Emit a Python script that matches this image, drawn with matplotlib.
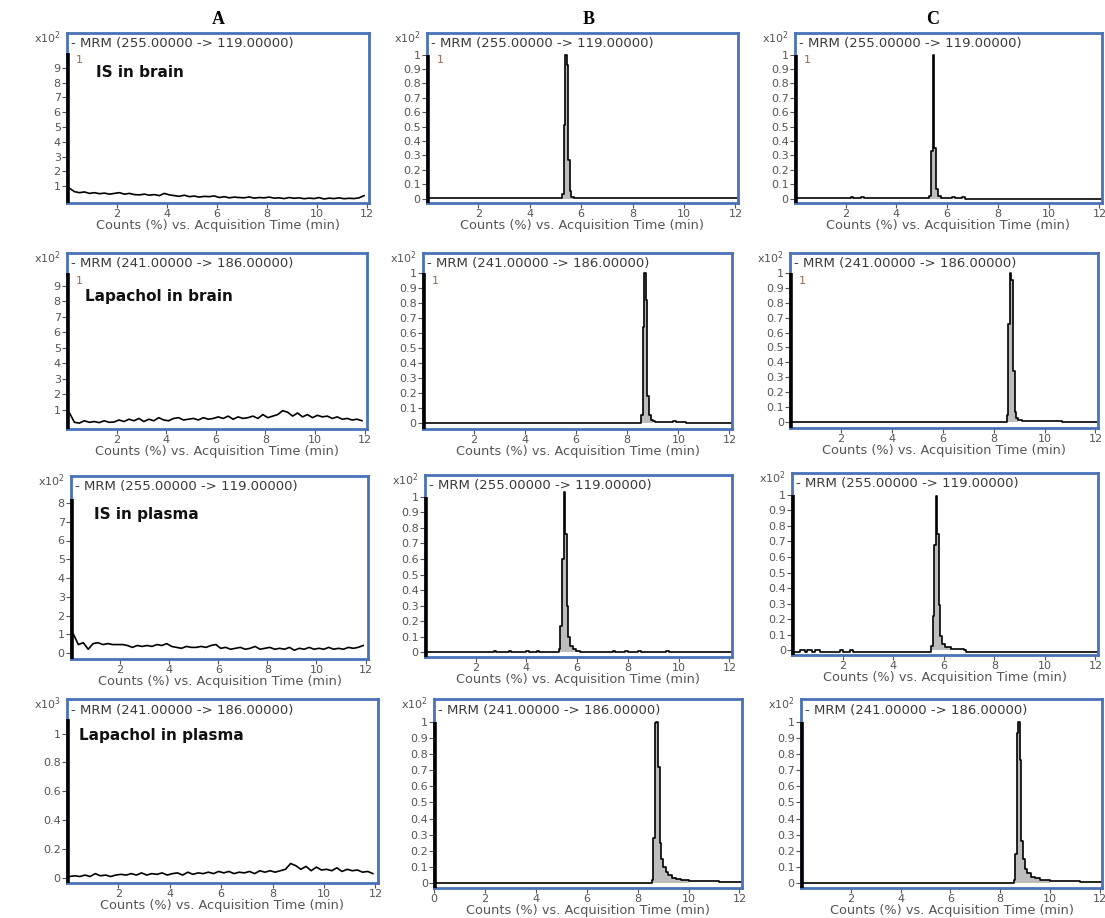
import numpy as np
import matplotlib.pyplot as plt
from matplotlib.ticker import FuncFormatter

# ---- data ----
# acquisition time grid of the blank traces (column A), min
t_blank = np.arange(0.1, 12.0, 0.2)

# column A, blank matrix (noise only), units of the x10^n factor
is_brain_A = [0.85, 0.62, 0.55, 0.60, 0.50, 0.55, 0.48, 0.52, 0.45, 0.50,
              0.55, 0.45, 0.50, 0.42, 0.40, 0.45, 0.38, 0.42, 0.35, 0.50,
              0.40, 0.35, 0.30, 0.38, 0.28, 0.32, 0.25, 0.30, 0.28, 0.33,
              0.22, 0.28, 0.20, 0.25, 0.22, 0.20, 0.26, 0.18, 0.22, 0.20,
              0.25, 0.18, 0.20, 0.15, 0.22, 0.17, 0.20, 0.14, 0.18, 0.15,
              0.22, 0.12, 0.18, 0.15, 0.20, 0.14, 0.17, 0.15, 0.20, 0.35]
lap_brain_A = [0.80, 0.20, 0.15, 0.30, 0.20, 0.25, 0.18, 0.30, 0.20, 0.22,
               0.35, 0.25, 0.40, 0.30, 0.45, 0.25, 0.40, 0.30, 0.50, 0.35,
               0.30, 0.45, 0.50, 0.35, 0.40, 0.45, 0.35, 0.50, 0.40, 0.45,
               0.55, 0.45, 0.60, 0.40, 0.55, 0.45, 0.50, 0.60, 0.45, 0.70,
               0.50, 0.60, 0.70, 0.95, 0.85, 0.60, 0.80, 0.55, 0.70, 0.50,
               0.65, 0.55, 0.60, 0.45, 0.55, 0.40, 0.45, 0.35, 0.40, 0.30]
is_plasma_A = [1.00, 0.45, 0.55, 0.20, 0.50, 0.55, 0.45, 0.50, 0.45, 0.45,
               0.45, 0.40, 0.30, 0.40, 0.35, 0.40, 0.35, 0.45, 0.40, 0.50,
               0.35, 0.30, 0.25, 0.35, 0.30, 0.30, 0.35, 0.30, 0.40, 0.45,
               0.25, 0.30, 0.20, 0.25, 0.30, 0.20, 0.25, 0.35, 0.20, 0.25,
               0.30, 0.20, 0.25, 0.20, 0.30, 0.15, 0.25, 0.20, 0.30, 0.20,
               0.25, 0.20, 0.30, 0.20, 0.25, 0.20, 0.30, 0.25, 0.30, 0.40]
lap_plasma_A = [0.010, 0.015, 0.010, 0.020, 0.010, 0.030, 0.015, 0.020, 0.010, 0.020,
                0.025, 0.020, 0.030, 0.020, 0.035, 0.020, 0.030, 0.025, 0.035, 0.020,
                0.030, 0.035, 0.020, 0.040, 0.025, 0.035, 0.030, 0.040, 0.030, 0.045,
                0.035, 0.045, 0.030, 0.040, 0.035, 0.045, 0.030, 0.050, 0.040, 0.050,
                0.040, 0.050, 0.060, 0.100, 0.085, 0.060, 0.080, 0.050, 0.075, 0.055,
                0.060, 0.050, 0.070, 0.045, 0.060, 0.050, 0.055, 0.040, 0.045, 0.030]

# columns B and C, spiked samples (x10^2, normalised)
is_brain_B_t = [0.0, 3.8, 3.9, 4.2, 4.3, 4.5, 4.6, 5.25, 5.32, 5.38, 5.44, 5.50, 5.56, 5.62,
                5.70, 6.7, 6.8, 6.9, 7.0, 7.1, 7.3, 8.8, 8.9, 10.6, 10.7, 11.0, 11.1, 11.7, 12.1]
is_brain_B_y = [0.003, 0.008, 0.003, 0.008, 0.003, 0.007, 0.003, 0.03, 0.51, 1.0, 0.93, 0.27, 0.05, 0.015,
                0.004, 0.008, 0.003, 0.008, 0.003, 0.007, 0.003, 0.007, 0.003, 0.007, 0.003, 0.007, 0.003, 0.007, 0.003]
is_brain_C_t = [0.0, 1.5, 1.6, 2.2, 2.3, 2.6, 2.7, 3.0, 3.1, 4.1, 4.2, 5.30, 5.36, 5.42,
                5.48, 5.55, 5.62, 5.75, 6.2, 6.3, 6.6, 6.7, 12.1]
is_brain_C_y = [0.006, 0.003, 0.006, 0.009, 0.004, 0.009, 0.004, 0.008, 0.004, 0.006, 0.003, 0.02, 0.33, 1.0,
                0.35, 0.07, 0.02, 0.008, 0.012, 0.004, 0.009, 0.0, 0.0]
lap_brain_B_t = [0.0, 8.55, 8.61, 8.67, 8.73, 8.79, 8.85, 8.92, 9.0, 9.1, 9.8, 9.9, 10.1, 10.3, 12.1]
lap_brain_B_y = [0.0, 0.05, 0.64, 1.0, 0.82, 0.18, 0.05, 0.02, 0.01, 0.006, 0.01, 0.004, 0.008, 0.0, 0.0]
lap_brain_C_t = [0.0, 8.52, 8.58, 8.64, 8.70, 8.76, 8.82, 8.88, 8.95, 9.1, 9.5, 10.0, 10.7, 12.1]
lap_brain_C_y = [0.0, 0.05, 0.66, 1.0, 0.95, 0.34, 0.07, 0.03, 0.015, 0.01, 0.007, 0.006, 0.0, 0.0]
is_plasma_B_t = [0.0, 2.7, 2.8, 3.3, 3.4, 4.0, 4.1, 4.4, 4.5, 5.28, 5.34, 5.40, 5.46, 5.52, 5.58,
                 5.64, 5.72, 5.82, 5.95, 6.1, 7.4, 7.5, 7.9, 8.0, 8.4, 8.5, 9.5, 9.6, 12.1]
is_plasma_B_y = [0.003, 0.008, 0.003, 0.009, 0.003, 0.008, 0.003, 0.008, 0.003, 0.02, 0.17, 0.60, 1.03, 0.76, 0.30,
                 0.10, 0.04, 0.02, 0.01, 0.003, 0.009, 0.003, 0.009, 0.003, 0.008, 0.003, 0.007, 0.003, 0.003]
is_plasma_C_t = [0.0, 0.3, 0.5, 0.6, 0.8, 0.9, 1.1, 1.9, 2.0, 2.3, 2.4, 5.50, 5.56, 5.62, 5.68,
                 5.74, 5.80, 5.86, 5.94, 6.05, 6.3, 6.8, 6.9, 12.1]
is_plasma_C_y = [-0.008, 0.0, -0.008, 0.0, -0.008, 0.0, -0.008, 0.0, -0.008, 0.0, -0.008, 0.03, 0.22, 0.68, 0.99,
                 0.75, 0.29, 0.09, 0.04, 0.02, 0.01, 0.0, -0.008, -0.008]
lap_plasma_B_t = [0.0, 8.55, 8.62, 8.68, 8.74, 8.80, 8.86, 8.92, 9.0, 9.1, 9.2, 9.35, 9.5, 9.7,
                  10.0, 10.5, 11.2, 11.4, 12.1]
lap_plasma_B_y = [0.0, 0.02, 0.28, 0.99, 1.0, 0.72, 0.25, 0.15, 0.10, 0.07, 0.05, 0.035, 0.025, 0.018,
                  0.013, 0.012, 0.010, 0.005, 0.005]
lap_plasma_C_t = [0.0, 8.55, 8.62, 8.68, 8.74, 8.80, 8.86, 8.92, 9.0, 9.1, 9.25, 9.4, 9.6, 10.0,
                  11.0, 11.2, 12.1]
lap_plasma_C_y = [0.0, 0.02, 0.18, 0.93, 1.0, 0.76, 0.26, 0.15, 0.09, 0.06, 0.04, 0.03, 0.02, 0.015,
                  0.012, 0.008, 0.008]

mrm_is = '- MRM (255.00000 -> 119.00000)'
mrm_lap = '- MRM (241.00000 -> 186.00000)'
col_titles = ['A', 'B', 'C']
peak_ticks = [0, 0.1, 0.2, 0.3, 0.4, 0.5, 0.6, 0.7, 0.8, 0.9, 1]

W, H = 1105, 918
BLUE = '#4a72b8'
GREY = '#555555'

fig = plt.figure(figsize=(W / 100, H / 100), dpi=100)

# box = (left, top, right, bottom) in pixels
panels = [
    # row 1
    dict(box=(67, 33, 369, 203), title=mrm_is, t=t_blank, y=is_brain_A, kind='noise',
         ylim=(-0.15, 11.37), yticks=range(1, 10), top=10, exp=2, label='IS in brain',
         lab_xy=(0.095, 0.765), one=True),
    dict(box=(427, 33, 738, 203), title=mrm_is, t=is_brain_B_t, y=is_brain_B_y, kind='peak',
         fill=(5.25, 5.70), ylim=(-0.03, 1.15), yticks=peak_ticks, top=1.0, exp=2, one=True),
    dict(box=(795, 33, 1102, 203), title=mrm_is, t=is_brain_C_t, y=is_brain_C_y, kind='peak',
         fill=(5.30, 5.75), ylim=(-0.03, 1.15), yticks=peak_ticks, top=1.0, exp=2, one=True),
    # row 2
    dict(box=(67, 253, 367, 429), title=mrm_lap, t=t_blank, y=lap_brain_A, kind='noise',
         ylim=(-0.23, 11.1), yticks=range(1, 10), top=9.8, exp=2, label='Lapachol in brain',
         lab_xy=(0.06, 0.75), one=True),
    dict(box=(423, 253, 732, 429), title=mrm_lap, t=lap_brain_B_t, y=lap_brain_B_y, kind='peak',
         fill=(8.55, 9.0), ylim=(-0.04, 1.133), yticks=peak_ticks, top=1.0, exp=2, one=True),
    dict(box=(790, 253, 1098, 428), title=mrm_lap, t=lap_brain_C_t, y=lap_brain_C_y, kind='peak',
         fill=(8.52, 9.0), ylim=(-0.04, 1.133), yticks=peak_ticks, top=1.0, exp=2, one=True),
    # row 3
    dict(box=(71, 476, 368, 659), title=mrm_is, t=t_blank, y=is_plasma_A, kind='noise',
         ylim=(-0.32, 9.44), yticks=range(0, 9), top=8.2, exp=2, label='IS in plasma',
         lab_xy=(0.078, 0.79), one=False),
    dict(box=(425, 475, 732, 657), title=mrm_is, t=is_plasma_B_t, y=is_plasma_B_y, kind='peak',
         fill=(5.28, 6.1), ylim=(-0.03, 1.14), yticks=peak_ticks, top=1.0, exp=2, one=False),
    dict(box=(792, 473, 1098, 655), title=mrm_is, t=is_plasma_C_t, y=is_plasma_C_y, kind='peak',
         fill=(5.50, 6.3), ylim=(-0.03, 1.14), yticks=peak_ticks, top=1.0, exp=2, one=False),
    # row 4
    dict(box=(67, 699, 378, 883), title=mrm_lap, t=t_blank, y=lap_plasma_A, kind='noise',
         ylim=(-0.035, 1.24), yticks=[0, 0.2, 0.4, 0.6, 0.8, 1], top=1.1, exp=3,
         label='Lapachol in plasma', lab_xy=(0.04, 0.80), one=False),
    dict(box=(434, 699, 742, 888), title=mrm_lap, t=lap_plasma_B_t, y=lap_plasma_B_y, kind='peak',
         fill=(8.55, 10.0), ylim=(-0.03, 1.14), yticks=peak_ticks, top=1.0, exp=2, one=False,
         zero_tick=True),
    dict(box=(801, 699, 1102, 888), title=mrm_lap, t=lap_plasma_C_t, y=lap_plasma_C_y, kind='peak',
         fill=(8.55, 10.0), ylim=(-0.03, 1.14), yticks=peak_ticks, top=1.0, exp=2, one=False),
]

for p in panels:
    l, t, r, b = p['box']
    ax = fig.add_axes([l / W, 1 - b / H, (r - l) / W, (b - t) / H])
    x = np.asarray(p['t'])
    y = np.asarray(p['y'])

    if p['kind'] == 'noise':
        ax.plot(x, y, color='black', lw=1.2)
    else:
        a0, a1 = p['fill']
        ax.fill_between(x, y, 0, where=(x >= a0) & (x <= a1), step='post',
                        color='#bdbdbd', lw=0)
        ax.step(x, y, where='post', color='black', lw=1.2)

    ax.set_xlim(0, 12.1)
    ax.set_ylim(*p['ylim'])
    xt = [0, 2, 4, 6, 8, 10, 12] if p.get('zero_tick') else [2, 4, 6, 8, 10, 12]
    ax.set_xticks(xt)
    ax.set_yticks(list(p['yticks']))
    ax.yaxis.set_major_formatter(FuncFormatter(lambda v, pos: f'{v:g}'))
    ax.tick_params(direction='out', length=3.5, width=0.8, color=GREY,
                   labelcolor=GREY, labelsize=8, pad=1)

    for s in ax.spines.values():
        s.set_color(BLUE)
        s.set_linewidth(2)

    # black intensity axis at the left edge
    ax.plot([0.004, 0.004], [p['ylim'][0], p['top']], transform=ax.get_yaxis_transform(),
            color='black', lw=2.6, solid_capstyle='butt', clip_on=False, zorder=5)

    ax.text(0.012, 0.94, p['title'], transform=ax.transAxes, fontsize=9.5,
            color='#3a3a3a', va='center', ha='left')
    ax.text(-0.02, 0.975, r'x10$^{%d}$' % p['exp'], transform=ax.transAxes,
            fontsize=8, color=GREY, va='center', ha='right')
    if p['one']:
        ax.text(0.03, 0.84, '1', transform=ax.transAxes, fontsize=8,
                color='#9a6a50', va='center', ha='left')
    if 'label' in p:
        ax.text(p['lab_xy'][0], p['lab_xy'][1], p['label'], transform=ax.transAxes,
                fontsize=11, fontweight='bold', color='#111111', va='center', ha='left')

    ax.set_xlabel('Counts (%) vs. Acquisition Time (min)', fontsize=9.3,
                  color=GREY, labelpad=0)

# column headers
for name, xc in zip(col_titles, [218, 589, 933]):
    fig.text(xc / W, 1 - 20 / H, name, family='Liberation Serif', fontweight='bold',
             fontsize=13, ha='center', va='center')

fig.savefig('out.png', dpi=100)
